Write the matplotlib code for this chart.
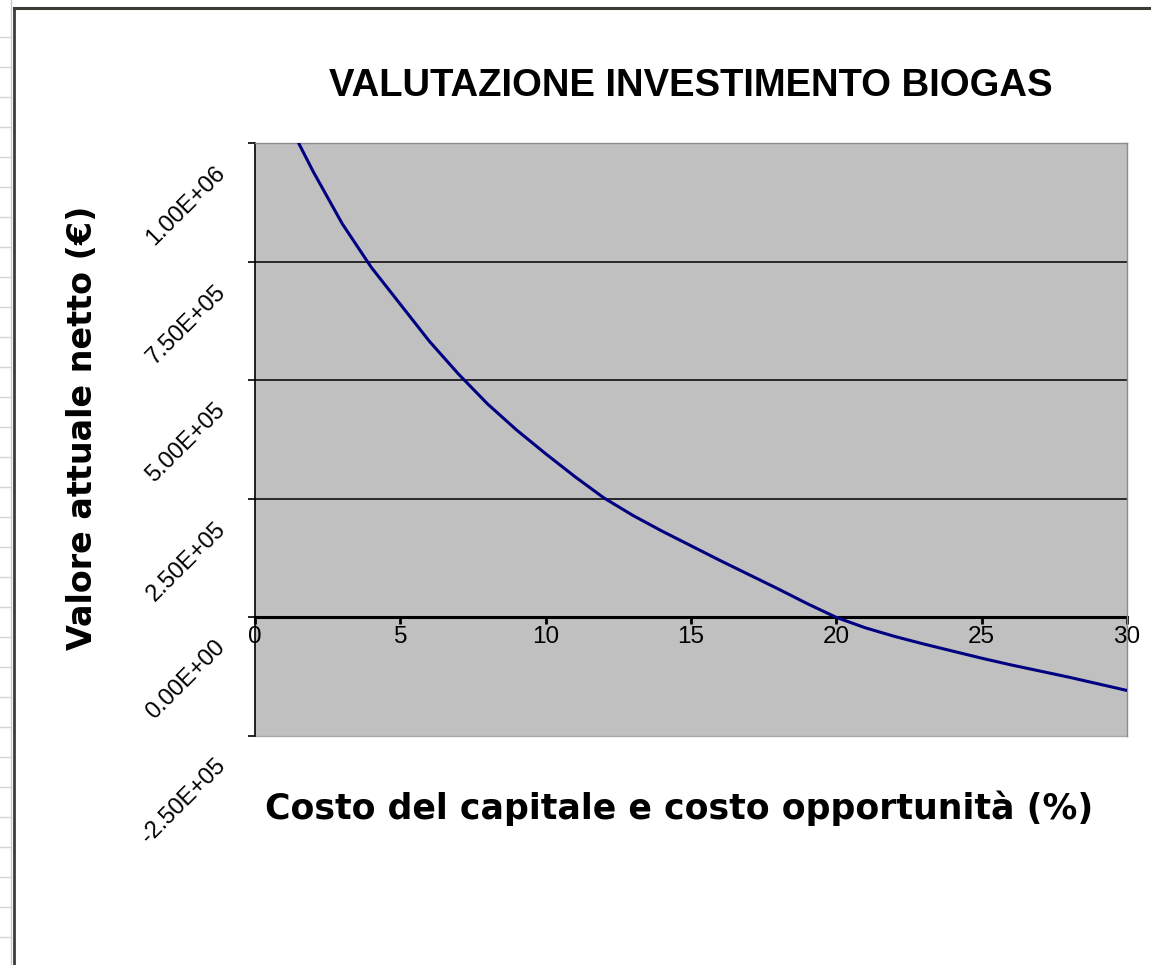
"""
Valutazione investimento biogas: VAN in funzione del costo del capitale
"""

import matplotlib.pyplot as plt
from matplotlib.lines import Line2D
from matplotlib.transforms import ScaledTranslation

# ============================================================================
# DATI
# ============================================================================

tasso = list(range(1, 31))  # costo del capitale (%)
van = [1.06e6, 9.40e5, 8.30e5, 7.38e5, 6.60e5, 5.82e5, 5.13e5, 4.50e5,
       3.95e5, 3.45e5, 2.97e5, 2.52e5, 2.15e5, 1.82e5, 1.51e5, 1.20e5,
       9.0e4, 6.0e4, 2.9e4, 0.0, -2.2e4, -4.0e4, -5.6e4, -7.1e4, -8.6e4,
       -1.00e5, -1.13e5, -1.26e5, -1.40e5, -1.54e5]

x_ticks = [0, 5, 10, 15, 20, 25, 30]
y_ticks = [-2.5e5, 0.0, 2.5e5, 5.0e5, 7.5e5, 1.0e6]

titolo = 'VALUTAZIONE INVESTIMENTO BIOGAS'
etichetta_x = 'Costo del capitale e costo opportunità (%)'
etichetta_y = 'Valore attuale netto (€)'

W, H = 1151, 965
FONT = ['Liberation Sans', 'DejaVu Sans']
FONT_ASSI = ['DejaVu Sans']
plt.rcParams['font.family'] = FONT

fig = plt.figure(figsize=(W / 100, H / 100), dpi=100)

# bordo area grafico e righe del foglio a sinistra
for y in range(37, H, 30):
    fig.add_artist(Line2D([0, 11 / W], [1 - y / H] * 2, color='#d4d4d4', lw=1))
fig.add_artist(Line2D([11 / W] * 2, [0, 1], color='#c8c8c8', lw=1))
fig.add_artist(Line2D([14 / W] * 2, [0, 1 - 8 / H], color='#3c3c34', lw=2))
fig.add_artist(Line2D([14 / W, 1], [1 - 8 / H] * 2, color='#3c3c34', lw=2.2))

ax = fig.add_axes([255 / W, 1 - 736 / H, 872 / W, 593 / H])
ax.set_facecolor('#c0c0c0')

ax.plot(tasso, van, color='#000080', lw=2.2, zorder=3)

ax.set_xlim(0, 30)
ax.set_ylim(y_ticks[0], y_ticks[-1])

# griglia orizzontale solo sulle linee interne
for v in y_ticks[2:-1]:
    ax.axhline(v, color='black', lw=1.1, zorder=1)
ax.axhline(y_ticks[0], color='#a8a8a8', lw=1, zorder=2, clip_on=False)

ax.spines['bottom'].set_position(('data', 0))
ax.spines['bottom'].set_linewidth(2.2)
ax.spines['bottom'].set_zorder(2)
ax.spines['left'].set_linewidth(1.2)
for s in ('top', 'right'):
    ax.spines[s].set_color('#8c8c8c')
    ax.spines[s].set_linewidth(1)

ax.set_xticks(x_ticks)
ax.set_xticklabels([str(t) for t in x_ticks])
ax.tick_params(axis='x', direction='out', length=5, width=2, pad=1,
               labelsize=17.5, colors='black')

ax.set_yticks(y_ticks)
ax.set_yticklabels([f'{v:.2E}' for v in y_ticks])
ax.tick_params(axis='y', direction='out', length=5, width=1.2, pad=13,
               labelsize=17)
spost = ScaledTranslation(0, -19 / 100, fig.dpi_scale_trans)
for lab in ax.get_yticklabels():
    lab.set_rotation(45)
    lab.set_ha('right')
    lab.set_va('top')
    lab.set_transform(lab.get_transform() + spost)

fig.text(691 / W, 1 - 86 / H, titolo, ha='center', va='center',
         fontsize=27.5, fontweight='bold')
fig.text(679 / W, 1 - 808 / H, etichetta_x, ha='center', va='center',
         fontsize=25, fontweight='bold', family=FONT_ASSI)
fig.text(83 / W, 1 - 428 / H, etichetta_y, ha='center', va='center',
         fontsize=24, fontweight='bold', rotation=90, family=FONT_ASSI)

fig.savefig('out.png', dpi=100)
